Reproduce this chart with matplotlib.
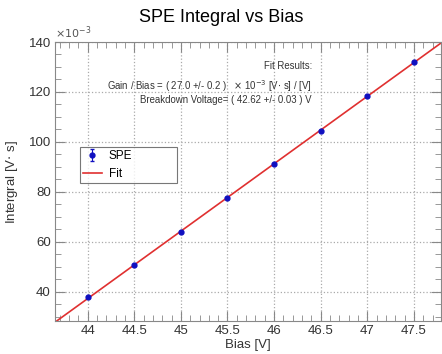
import matplotlib
matplotlib.use("Agg")
import matplotlib.pyplot as plt
import numpy as np
from matplotlib.ticker import MultipleLocator

plt.rcParams['font.family'] = ['Liberation Sans', 'DejaVu Sans']

bias = [44.0, 44.5, 45.0, 45.5, 46.0, 46.5, 47.0, 47.5]
integral = [38.0, 50.8, 64.0, 77.5, 91.2, 104.2, 118.5, 132.0]
integral_err = [0.4, 0.4, 0.4, 0.4, 0.4, 0.4, 0.4, 0.4]
gain = 27.0
v_bd = 42.62

W, H = 442, 354
fig = plt.figure(figsize=(W/100, H/100), dpi=100)
ax = fig.add_axes([55/W, 1 - 321/H, (441-55)/W, (321-42)/H])

xlim = (43.65, 47.79)
ax.set_xlim(*xlim)
ax.set_ylim(28.3, 140)

xf = np.array(xlim)
eb = ax.errorbar(bias, integral, yerr=integral_err, fmt='o', color='#1010c0', ms=3.5,
                 capsize=1.5, elinewidth=0.8, label='SPE', zorder=3)
ln, = ax.plot(xf, gain * (xf - v_bd), color='#e03030', lw=1.2, label='Fit', zorder=2)

ax.xaxis.set_major_locator(MultipleLocator(0.5))
ax.xaxis.set_minor_locator(MultipleLocator(0.1))
ax.yaxis.set_major_locator(MultipleLocator(20))
ax.yaxis.set_minor_locator(MultipleLocator(5))
ax.tick_params(which='both', direction='in', top=True, right=True, labelsize=9.5, colors='#333333')
ax.tick_params(which='major', length=7, color='#888888', pad=3)
ax.tick_params(which='minor', length=4, color='#888888')
ax.xaxis.set_major_formatter(matplotlib.ticker.FuncFormatter(lambda v, p: f"{v:g}"))
ax.grid(True, which='major', ls=':', color='#aaaaaa', lw=0.9)
for s in ax.spines.values():
    s.set_color('#888888')

ax.set_xlabel('Bias [V]', fontsize=9.5, color='#333333', labelpad=1)
ax.set_ylabel('Intergral [V$\\cdot$ s]', fontsize=9.5, color='#333333', labelpad=6)
fig.text(0.5, 1 - 18/H, 'SPE Integral vs Bias', ha='center', va='center', fontsize=13)
ax.text(0.0, 1.005, r'$\times10^{-3}$', transform=ax.transAxes, ha='left', va='bottom',
        fontsize=8, color='#555555')

def px(x, y):
    return x / W, 1 - y / H

fs = 6.9
fig.text(*px(312, 66), 'Fit Results:', fontsize=fs, ha='right', va='center', color='#333333')
fig.text(*px(312, 86), r'Gain / Bias = ( 27.0 +/- 0.2 )   $\times$ 10$^{-3}$ [V$\cdot$ s] / [V]',
         fontsize=fs, ha='right', va='center', color='#333333')
fig.text(*px(312, 100), 'Breakdown Voltage= ( 42.62 +/- 0.03 ) V',
         fontsize=fs, ha='right', va='center', color='#333333')

x0, x1, y0, y1 = 80, 177, 147, 183
bb = ((x0-55)/386, 1 - (y1-42)/279, (x1-x0)/386, (y1-y0)/279)
leg = ax.legend([eb, ln], ['SPE', 'Fit'], loc='upper left', bbox_to_anchor=bb,
                mode='expand', fontsize=8.5, frameon=True, fancybox=False, handlelength=1.6,
                borderpad=0.25, labelspacing=0.55, edgecolor='#555555', borderaxespad=0,
                handletextpad=0.6)
leg.get_frame().set_linewidth(0.8)

fig.savefig('out.png', dpi=100)
